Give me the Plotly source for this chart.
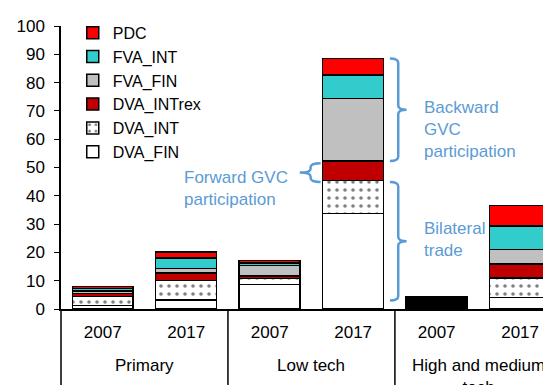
import plotly.graph_objects as go

# categories
groups = ["Primary", "Low tech", "High and medium<br>tech"]
years = ["2007", "2017", "2007", "2017", "2007", "2017"]

# series values (share, %), one value per bar
dva_fin = [1.2, 3.1, 8.6, 33.7, 0.7, 4.1]
dva_int = [3.2, 7.0, 2.2, 11.7, 0.8, 6.8]
dva_intrex = [1.1, 2.7, 0.9, 6.9, 0.6, 5.0]
fva_fin = [0.8, 1.5, 3.6, 22.0, 0.8, 5.2]
fva_int = [0.9, 3.8, 0.9, 8.4, 0.7, 8.2]
pdc = [0.8, 2.0, 0.9, 5.8, 0.6, 7.3]

BLUE = "rgb(91,155,213)"
FONT = "Liberation Sans"
xpos = list(range(len(years)))

series = [
    ("DVA_FIN", dva_fin, "white", None),
    ("DVA_INT", dva_int, "white", dict(shape=".", fgcolor="black", bgcolor="white", size=8, solidity=0.16)),
    ("DVA_INTrex", dva_intrex, "#C00000", None),
    ("FVA_FIN", fva_fin, "#C0C0C0", None),
    ("FVA_INT", fva_int, "#33CCCC", None),
    ("PDC", pdc, "#FF0000", None),
]

fig = go.Figure()
for rank, (name, vals, color, pattern) in enumerate(series):
    marker = dict(color=color, line=dict(color="black", width=1.5))
    if pattern:
        marker["pattern"] = pattern
    fig.add_trace(go.Bar(x=xpos, y=vals, name=name, marker=marker,
                         width=0.73, legendrank=len(series) - rank))


def brace(xe, xs, xt, y0, y1, r):
    # curly brace: ends at xe, spine at xs, tip at xt
    ym = (y0 + y1) / 2
    return (f"M {xe},{y1} Q {xs},{y1} {xs},{y1 - r} L {xs},{ym + r} "
            f"Q {xs},{ym} {xt},{ym} Q {xs},{ym} {xs},{ym - r} "
            f"L {xs},{y0 + r} Q {xs},{y0} {xe},{y0}")


# low tech 2017 bar levels
i = 3
lvl_bil = dva_fin[i] + dva_int[i]
lvl_fwd = lvl_bil + dva_intrex[i]
lvl_top = lvl_fwd + fva_fin[i] + fva_int[i] + pdc[i]

line = dict(color=BLUE, width=2.5)
shapes = [
    dict(type="path", xref="x", yref="y", line=line,
         path=brace(i + 0.44, i + 0.54, i + 0.64, lvl_fwd, lvl_top, 1.6)),
    dict(type="path", xref="x", yref="y", line=line,
         path=brace(i - 0.39, i - 0.51, i - 0.64, lvl_bil - 0.5, lvl_fwd - 0.8, 1.4)),
    dict(type="path", xref="x", yref="y", line=line,
         path=brace(i + 0.44, i + 0.54, i + 0.64, 3, lvl_bil - 0.5, 1.6)),
]
# group dividers below the axis
for xd in [1.5, 3.5]:
    shapes.append(dict(type="line", xref="x", yref="paper", x0=xd, x1=xd,
                       y0=0, y1=-0.4, line=dict(color="black", width=1.5)))
shapes.append(dict(type="line", xref="paper", yref="paper", x0=0, x1=0,
                   y0=0, y1=-0.4, line=dict(color="black", width=1.5)))

annotations = []
for k, g in enumerate(groups):
    annotations.append(dict(x=2 * k + 0.5, y=-0.16, xref="x", yref="paper",
                            text=g, showarrow=False, xanchor="center", yanchor="top",
                            font=dict(family=FONT, size=17, color="black")))
notes = [
    ("Backward<br>GVC<br>participation", 3.83, 63.5),
    ("Forward GVC<br>participation", 0.95, 42.6),
    ("Bilateral<br>trade", 3.82, 24.7),
]
for text, xa, ya in notes:
    annotations.append(dict(x=xa, y=ya, xref="x", yref="y", text=text,
                            showarrow=False, xanchor="left", yanchor="middle",
                            align="left", font=dict(family=FONT, size=17, color=BLUE)))

fig.update_layout(
    barmode="stack",
    width=551, height=385,
    margin=dict(l=47, r=8, t=14, b=84),
    paper_bgcolor="white", plot_bgcolor="white",
    font=dict(family=FONT, size=17, color="black"),
    shapes=shapes,
    annotations=annotations,
    legend=dict(x=0.024, y=1.036, xanchor="left", yanchor="top",
                traceorder="normal",
                bgcolor="rgba(0,0,0,0)", font=dict(family=FONT, size=16)),
    xaxis=dict(range=[-0.5, 5.37], tickvals=xpos, ticktext=years,
               showline=True, linecolor="black", linewidth=2, ticks="",
               showgrid=False, zeroline=False, ticklabelstandoff=7),
    yaxis=dict(range=[0, 100], dtick=10, showline=True, linecolor="black",
               linewidth=1.5, ticks="outside", ticklen=5, tickcolor="black",
               showgrid=False, zeroline=False, ticklabelstandoff=6),
)

fig.write_html("out.html")
